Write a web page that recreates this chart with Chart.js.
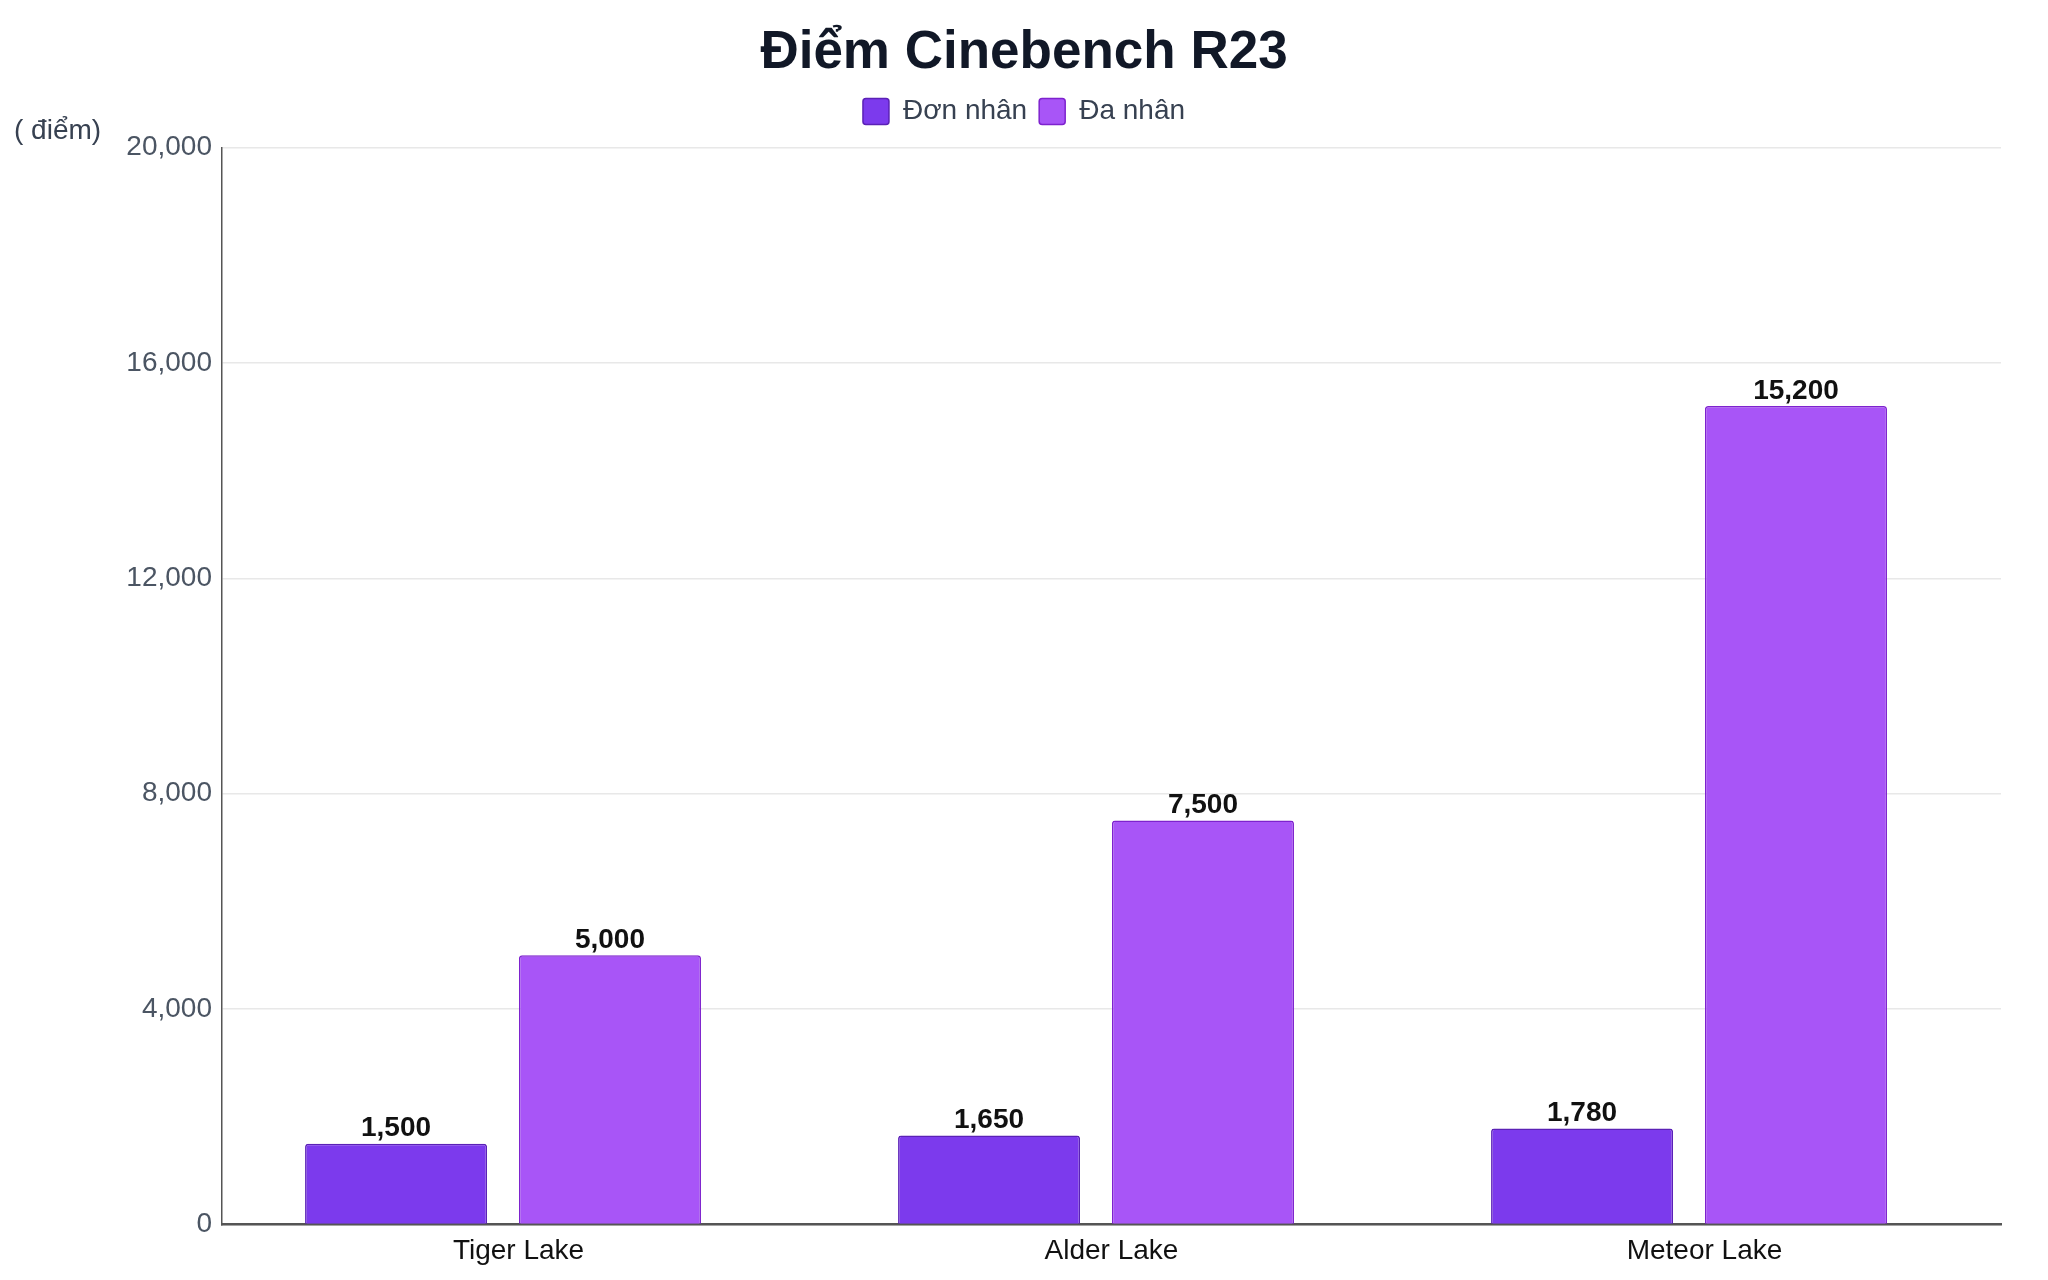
<!DOCTYPE html>
<html>
<head>
<meta charset="utf-8">
<script src="https://cdn.jsdelivr.net/npm/chart.js@4.4.1/dist/chart.umd.min.js"></script>
<style>
  html, body { margin: 0; padding: 0; background: #fff; }
  #wrap { width: 2048px; height: 1280px; }
</style>
</head>
<body>
<div id="wrap"><canvas id="cinebench"></canvas></div>
<script>
const chips = ['Tiger Lake', 'Alder Lake', 'Meteor Lake'];
const singleCore = [1500, 1650, 1780];
const multiCore = [5000, 7500, 15200];
const seriesNames = ['Đơn nhân', 'Đa nhân'];
const yTicks = [0, 4000, 8000, 12000, 16000, 20000];

const fontFamily = '"Liberation Sans", Arial, Helvetica, sans-serif';

// value labels above each bar
const barLabels = {
  id: 'barLabels',
  afterDatasetsDraw(chart) {
    const ctx = chart.ctx;
    ctx.save();
    ctx.font = 'bold 28px ' + fontFamily;
    ctx.fillStyle = '#111111';
    ctx.textAlign = 'center';
    ctx.textBaseline = 'bottom';
    chart.data.datasets.forEach((ds, i) => {
      chart.getDatasetMeta(i).data.forEach((bar, j) => {
        ctx.fillText(ds.data[j].toLocaleString('en-US'), bar.x, bar.y - 1);
      });
    });
    ctx.restore();
  }
};

// unit label top-left
const unitLabel = {
  id: 'unitLabel',
  afterDraw(chart) {
    const ctx = chart.ctx;
    ctx.save();
    ctx.font = '28px ' + fontFamily;
    ctx.fillStyle = '#374151';
    ctx.textAlign = 'left';
    ctx.textBaseline = 'middle';
    ctx.fillText('( điểm)', 14, chart.chartArea.top - 16);
    ctx.restore();
  }
};

// a bit more room under the legend
const legendGap = {
  id: 'legendGap',
  beforeInit(chart) {
    const fit = chart.legend.fit;
    chart.legend.fit = function () {
      fit.bind(chart.legend)();
      this.height += 12;
    };
  }
};

new Chart(document.getElementById('cinebench').getContext('2d'), {
  type: 'bar',
  data: {
    labels: chips,
    datasets: [
      {
        label: seriesNames[0],
        data: singleCore,
        backgroundColor: '#7c3aed',
        borderColor: '#5b21b6',
        borderWidth: 1.5,
        borderRadius: 3,
        borderSkipped: 'bottom',
        categoryPercentage: 0.826,
        barPercentage: 0.743
      },
      {
        label: seriesNames[1],
        data: multiCore,
        backgroundColor: '#a855f7',
        borderColor: '#7e22ce',
        borderWidth: 1.5,
        borderRadius: 3,
        borderSkipped: 'bottom',
        categoryPercentage: 0.617,
        barPercentage: 0.995
      }
    ]
  },
  options: {
    responsive: true,
    maintainAspectRatio: false,
    animation: false,
    layout: { padding: { left: 47, right: 47, top: 18, bottom: 10 } },
    plugins: {
      title: {
        display: true,
        text: 'Điểm Cinebench R23',
        color: '#111827',
        font: { family: fontFamily, size: 53, weight: 'bold' },
        padding: { top: 4, bottom: 0 }
      },
      legend: {
        labels: {
          color: '#374151',
          font: { family: fontFamily, size: 28 },
          boxWidth: 26,
          boxHeight: 26,
          padding: 12,
          useBorderRadius: true,
          borderRadius: 3
        }
      },
      tooltip: { enabled: false }
    },
    scales: {
      x: {
        grid: { display: false },
        border: { color: '#555555', width: 2.5 },
        ticks: { color: '#111111', font: { family: fontFamily, size: 28 }, padding: 2 }
      },
      y: {
        min: yTicks[0],
        max: yTicks[yTicks.length - 1],
        afterBuildTicks(axis) {
          axis.ticks = yTicks.map(v => ({ value: v }));
        },
        afterFit(axis) {
          axis.width = 175;
        },
        grid: { color: '#e8e8e8', lineWidth: 1.5, drawTicks: false },
        border: { color: '#555555', width: 1.5 },
        ticks: {
          color: '#4b5563',
          font: { family: fontFamily, size: 28 },
          padding: 10,
          callback: v => v.toLocaleString('en-US')
        }
      }
    }
  },
  plugins: [barLabels, unitLabel, legendGap]
});
</script>
</body>
</html>
